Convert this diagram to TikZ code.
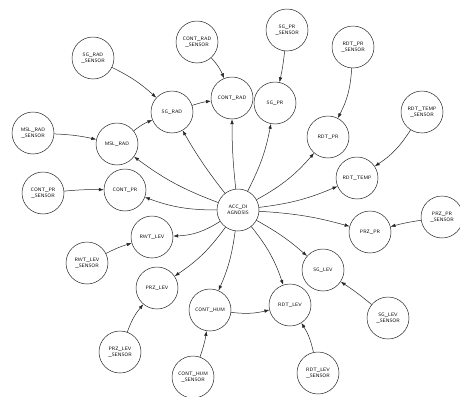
\documentclass[tikz,border=0pt]{standalone}
\usepackage{xcolor}
\usepackage{amsmath}
\usepackage{tikz}
\usetikzlibrary{calc}
\usetikzlibrary{arrows.meta}

\tikzset{
  state/.style={draw=black!85, circle, line width=0.025cm, minimum size=2.1cm,
                inner sep=0pt, align=center, font=\sffamily\scriptsize},
  link/.style={draw=black!85, line width=0.025cm, -{Latex[length=7pt,width=5pt]}}
}

\begin{document}
\begin{tikzpicture}[x=0.05cm,y=-0.05cm]
                        \useasboundingbox (0,0) rectangle (460,396);
                        {\footnotesize

                        % Placing centre node
                        \node [state] (acc) at (238,210) {ACC\_DI\\AGNOSIS};%

                        % Placing state nodes
                        \node [state] (sgrad) at (172,112) {SG\_RAD};%
                        \node [state] (contrad) at (232,98) {CONT\_RAD};%
                        \node [state] (mslrad) at (117,144) {MSL\_RAD};%
                        \node [state] (contpr) at (125,190) {CONT\_PR};%
                        \node [state] (sgpr) at (275,103) {SG\_PR};%
                        \node [state] (rdtpr) at (328,137) {RDT\_PR};%
                        \node [state] (rdttemp) at (357,178) {RDT\_TEMP};%
                        \node [state] (przpr) at (370,232) {PRZ\_PR};%
                        \node [state] (sglev) at (323,270) {SG\_LEV};%
                        \node [state] (rdtlev) at (290,305) {RDT\_LEV};%
                        \node [state] (conthum) at (210,310) {CONT\_HUM};%
                        \node [state] (przlev) at (157,288) {PRZ\_LEV};%
                        \node [state] (rwtlev) at (152,237) {RWT\_LEV};%

                        % Placing sensor nodes
                        \node [state] (sgradsen) at (93,58) {SG\_RAD\\\_SENSOR};%
                        \node [state] (contradsen) at (197,42) {CONT\_RAD\\\_SENSOR};%
                        \node [state] (mslradsen) at (33,133) {MSL\_RAD\\\_SENSOR};%
                        \node [state] (contprsen) at (43,193) {CONT\_PR\\\_SENSOR};%
                        \node [state] (sgprsen) at (287,30) {SG\_PR\\\_SENSOR};%
                        \node [state] (rdtprsen) at (353,47) {RDT\_PR\\\_SENSOR};%
                        \node [state] (rdttempsen) at (422,112) {RDT\_TEMP\\\_SENSOR};%
                        \node [state] (przprsen) at (442,217) {PRZ\_PR\\\_SENSOR};%
                        \node [state] (sglevsen) at (388,318) {SG\_LEV\\\_SENSOR};%
                        \node [state] (rdtlevsen) at (318,373) {RDT\_LEV\\\_SENSOR};%
                        \node [state] (conthumsen) at (193,377) {CONT\_HUM\\\_SENSOR};%
                        \node [state] (przlevsen) at (120,352) {PRZ\_LEV\\\_SENSOR};%
                        \node [state] (rwtlevsen) at (87,263) {RWT\_LEV\\\_SENSOR};%

                        % Drawing links from centre
                        \draw [link] (acc) to [bend left=4] (sgrad);%
                        \draw [link] (acc) to [bend left=3] (contrad);%
                        \draw [link] (acc) to [bend left=8] (mslrad);%
                        \draw [link] (acc) to [bend left=10] (contpr);%
                        \draw [link] (acc) to [bend right=8] (sgpr);%
                        \draw [link] (acc) to [bend right=10] (rdtpr);%
                        \draw [link] (acc) to [bend right=8] (rdttemp);%
                        \draw [link] (acc) to [bend left=6] (przpr);%
                        \draw [link] (acc) to [bend left=6] (sglev);%
                        \draw [link] (acc) to [bend left=10] (rdtlev);%
                        \draw [link] (acc) to [bend left=8] (conthum);%
                        \draw [link] (acc) to [bend left=10] (przlev);%
                        \draw [link] (acc) to [bend left=15] (rwtlev);%

                        % Drawing links between states
                        \draw [link] (mslrad) to [bend left=8] (sgrad);%
                        \draw [link] (sgrad) to [bend left=5] (contrad);%
                        \draw [link] (conthum) to [bend right=10] (rdtlev);%

                        % Drawing links from sensors
                        \draw [link] (sgradsen) to [bend left=8] (sgrad);%
                        \draw [link] (contradsen) to [bend left=10] (contrad);%
                        \draw [link] (mslradsen) to [bend left=5] (mslrad);%
                        \draw [link] (contprsen) to [bend left=3] (contpr);%
                        \draw [link] (sgprsen) to [bend left=3] (sgpr);%
                        \draw [link] (rdtprsen) to [bend left=12] (rdtpr);%
                        \draw [link] (rdttempsen) to [bend left=12] (rdttemp);%
                        \draw [link] (przprsen) to [bend right=3] (przpr);%
                        \draw [link] (sglevsen) to [bend right=3] (sglev);%
                        \draw [link] (rdtlevsen) to [bend right=10] (rdtlev);%
                        \draw [link] (conthumsen) to [bend right=5] (conthum);%
                        \draw [link] (przlevsen) to [bend left=10] (przlev);%
                        \draw [link] (rwtlevsen) to [bend left=5] (rwtlev);%
                        }
\end{tikzpicture}
\end{document}
